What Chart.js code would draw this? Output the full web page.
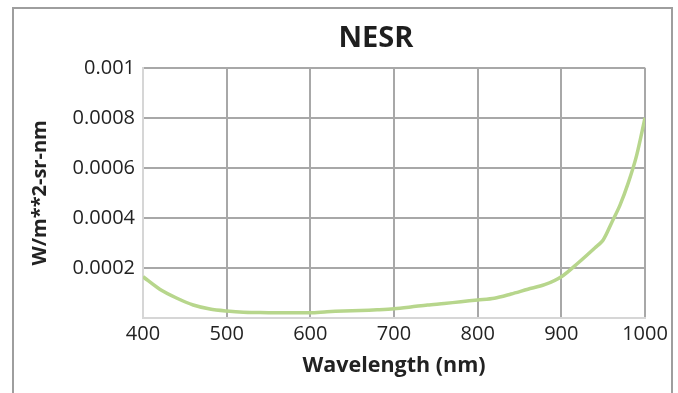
<!DOCTYPE html>
<html>
<head>
<meta charset="utf-8">
<script src="https://cdn.jsdelivr.net/npm/chart.js@4/dist/chart.umd.min.js"></script>
<style>
  html, body { margin: 0; padding: 0; background: #ffffff; }
  #wrap { position: relative; width: 678px; height: 393px; overflow: hidden; }
  #frame { position: absolute; left: 12px; top: 7px; width: 661px; height: 420px; border: 2px solid #9e9e9e; box-sizing: border-box; }
  #c { position: absolute; left: 0; top: 0; }
</style>
</head>
<body>
<div id="wrap">
  <div id="frame"></div>
  <canvas id="c" width="678" height="393"></canvas>
</div>
<script>
const chartTitle = 'NESR';
const xAxisTitle = 'Wavelength (nm)';
const yAxisTitle = 'W/m**2-sr-nm';
const wavelengths = [400, 420, 440, 460, 480, 500, 520, 540, 560, 580, 600, 620, 640, 660, 680, 700, 720, 740, 760, 780, 800, 820, 840, 860, 880, 900, 920, 940, 950, 960, 970, 980, 990, 1000];
const nesrValues = [0.000165, 0.000115, 0.000080, 0.000052, 0.000036, 0.000028, 0.000023, 0.000022, 0.000021, 0.000021, 0.000021, 0.000025, 0.000028, 0.000030, 0.000033, 0.000037, 0.000044, 0.000052, 0.000058, 0.000065, 0.000072, 0.000079, 0.000096, 0.000115, 0.000133, 0.000165, 0.000220, 0.000280, 0.000312, 0.000380, 0.000450, 0.000540, 0.000650, 0.000800];
const xTickValues = [400, 500, 600, 700, 800, 900, 1000];
const xTickLabels = ['400', '500', '600', '700', '800', '900', '1000'];
const yTickValues = [0, 0.0002, 0.0004, 0.0006, 0.0008, 0.001];
const yTickLabels = ['', '0.0002', '0.0004', '0.0006', '0.0008', '0.001'];

const points = wavelengths.map((w, i) => ({ x: w, y: nesrValues[i] }));
const FONT = '"Open Sans", sans-serif';
const PAD = { left: 12, right: 33, top: 0, bottom: 12 };

function labelFor(values, labels, v) {
  const i = values.findIndex(t => Math.abs(t - v) < 1e-9);
  return i >= 0 ? labels[i] : '';
}

// The reference title sits a little right of the canvas centre: narrow its box on the left.
const titleShift = {
  id: 'titleShift',
  afterLayout(chart) {
    const t = chart.titleBlock;
    if (t) { t.left = 107; }
  }
};

new Chart(document.getElementById('c'), {
  type: 'line',
  data: {
    datasets: [{
      data: points,
      borderColor: '#b7d68c',
      borderWidth: 3.5,
      pointRadius: 0,
      tension: 0.3,
      fill: false
    }]
  },
  plugins: [titleShift],
  options: {
    responsive: false,
    animation: false,
    events: [],
    layout: { padding: PAD },
    plugins: {
      legend: { display: false },
      tooltip: { enabled: false },
      title: {
        display: true,
        text: chartTitle,
        color: '#1e1e1e',
        font: { family: FONT, size: 29, weight: 'bold' },
        padding: { top: 21, bottom: 12 }
      }
    },
    scales: {
      x: {
        type: 'linear',
        min: 400,
        max: 1000,
        afterBuildTicks: (s) => { s.ticks = xTickValues.map(v => ({ value: v })); },
        afterFit: (s) => { s.height = 63; },
        ticks: {
          color: '#222222',
          font: { family: FONT, size: 20 },
          padding: 4,
          maxRotation: 0,
          autoSkip: false,
          callback: (v) => labelFor(xTickValues, xTickLabels, v)
        },
        grid: {
          drawTicks: false,
          lineWidth: 2,
          color: (ctx) => (ctx.tick && ctx.tick.value === 400) ? 'rgba(0,0,0,0)' : '#a8a8a8'
        },
        border: { display: true, color: '#d6d6d6', width: 2 },
        title: {
          display: true,
          text: xAxisTitle,
          color: '#222222',
          font: { family: FONT, size: 21.5, weight: 'bold' },
          padding: { top: 4, bottom: 2 }
        }
      },
      y: {
        type: 'linear',
        min: 0,
        max: 0.001,
        afterBuildTicks: (s) => { s.ticks = yTickValues.map(v => ({ value: v })); },
        afterFit: (s) => { s.width = 131; },
        ticks: {
          color: '#222222',
          font: { family: FONT, size: 20 },
          padding: 8,
          autoSkip: false,
          callback: (v) => labelFor(yTickValues, yTickLabels, v)
        },
        grid: {
          drawTicks: false,
          lineWidth: 2,
          color: (ctx) => (ctx.tick && ctx.tick.value === 0) ? 'rgba(0,0,0,0)' : '#a8a8a8'
        },
        border: { display: true, color: '#d6d6d6', width: 2 },
        title: {
          display: true,
          text: yAxisTitle,
          color: '#222222',
          font: { family: FONT, size: 20, weight: 'bold' },
          padding: { top: 16, bottom: 0 }
        }
      }
    }
  }
});
</script>
</body>
</html>
